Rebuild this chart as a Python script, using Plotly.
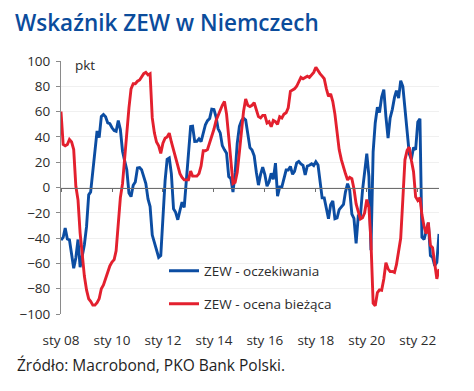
import pandas as pd
import plotly.graph_objects as go

# monthly data Jan 2008 .. Nov 2022
start_month = "2008-01-01"
expectations = [
    -41.6, -39.5, -32.0, -40.7, -41.4, -52.4, -63.9, -55.5, -41.1, -63.0, -53.5, -45.2,
    -31.0, -5.8, -3.5, 13.0, 31.1, 44.8, 39.5, 56.1, 57.7, 56.0, 51.1, 50.4,
    47.2, 45.1, 44.5, 53.0, 45.8, 28.7, 21.2, 14.0, -4.3, -7.2, 1.8, 4.3,
    15.4, 15.7, 14.1, 7.6, 3.1, -9.0, -15.1, -37.6, -43.3, -48.3, -55.2, -53.8,
    -21.6, 5.4, 22.3, 23.4, 10.8, -16.9, -19.6, -25.5, -18.2, -11.5, -15.7, 6.9,
    31.5, 48.2, 48.5, 36.3, 36.4, 38.5, 36.3, 42.0, 49.6, 52.8, 54.6, 62.0,
    61.7, 55.7, 46.6, 43.2, 33.1, 29.8, 27.1, 8.6, 6.9, -3.6, 11.5, 34.9,
    48.4, 53.0, 54.8, 53.3, 41.9, 31.5, 29.7, 25.0, 12.1, 1.9, 10.4, 16.1,
    10.2, 1.0, 4.3, 11.2, 6.4, 19.2, -6.8, 0.5, 0.5, 6.2, 13.8, 13.8,
    16.6, 10.4, 12.8, 19.5, 20.6, 18.6, 17.5, 10.0, 17.0, 17.6, 18.7, 17.4,
    20.4, 17.8, 5.1, -8.2, -8.2, -16.1, -24.7, -13.7, -10.6, -24.7, -24.1, -17.5,
    -15.0, -13.4, -3.6, 3.1, -2.1, -21.1, -24.5, -44.1, -22.5, -22.8, -2.1, 10.7,
    26.7, 8.7, -49.5, 28.2, 51.0, 63.4, 59.3, 71.5, 77.4, 56.1, 39.0, 55.0,
    61.8, 71.2, 76.6, 70.7, 84.4, 79.8, 63.3, 40.4, 26.5, 22.3, 31.7, 29.9,
    51.7, 54.3, -39.3, -41.0, -34.3, -28.0, -53.8, -55.3, -61.9, -59.2, -36.7,
]
current = [
    60, 34, 33, 34, 38, 36, 30, 1, -10, -36, -53, -70,
    -81, -88, -90, -93, -93, -91, -88, -80, -77, -72, -67, -62,
    -59, -57, -50, -31, -8, 3, 25, 45, 63, 78, 82, 82,
    84, 85, 87, 90, 91, 89, 90, 55, 43, 36, 33, 27,
    35, 39, 40, 43, 36, 30, 23, 18, 11, 8, 6, 6,
    6, 13, 9, 9, 9, 11, 17, 29, 29, 30, 35, 41,
    46, 53, 57, 62, 65, 68, 58, 40, 22, 3, 4, 12,
    28, 48, 60, 70, 65, 64, 65, 67, 62, 56, 55, 57,
    57, 51, 52, 48, 53, 52, 50, 56, 55, 58, 59, 63,
    76, 77, 78, 80, 84, 87, 86, 87, 88, 87, 89, 91,
    95, 92, 90, 88, 86, 78, 72, 74, 68, 58, 45, 30,
    22, 15, 11, 6, 8, 7, -1, -13, -20, -25, -24, -20,
    -9.5, -15.7, -43.1, -91.5, -93.5, -83.1, -80.9, -81.3, -72.3, -59.5, -64.3, -66.5,
    -66.4, -67.2, -61.0, -48.8, -40.1, -9.1, 21.9, 29.3, 31.9, 21.6, 12.5, -7.4,
    -10.2, -8.1, -21.4, -30.8, -36.5, -27.6, -45.8, -47.6, -60.5, -72.2, -64.5,
]
dates = pd.date_range(start_month, periods=len(expectations), freq="MS")

tick_vals = ["2008-01-01", "2010-01-01", "2012-01-01", "2014-01-01",
             "2016-01-01", "2018-01-01", "2020-01-01", "2022-01-01"]
tick_text = ["sty 08", "sty 10", "sty 12", "sty 14", "sty 16", "sty 18", "sty 20", "sty 22"]
y_ticks = [-100, -80, -60, -40, -20, 0, 20, 40, 60, 80, 100]

name_exp = "ZEW - oczekiwania"
name_cur = "ZEW - ocena bieżąca"

BLUE = "#0c4da2"
RED = "#e3202e"
FONT = "Open Sans"
TXT = "#2b2b2b"

fig = go.Figure()
fig.add_trace(go.Scatter(x=dates, y=current, name=name_cur, mode="lines",
                         line=dict(color=RED, width=2.9), xaxis="x2", legend="legend2",
                         showlegend=True))
fig.add_trace(go.Scatter(x=dates, y=expectations, name=name_exp, mode="lines",
                         line=dict(color=BLUE, width=2.9), legend="legend",
                         showlegend=True))

xr = [dates[0], dates[-1]]
LX = (164 - 61) / 378
fig.update_layout(
    width=474, height=391,
    margin=dict(l=61, r=35, t=61, b=77),
    showlegend=True,
    paper_bgcolor="white", plot_bgcolor="white",
    font=dict(family=FONT, size=13, color=TXT),
    title=dict(text="Wskaźnik ZEW w Niemczech", xref="container", yref="container",
               x=15 / 474, xanchor="left", y=1 - 23 / 391, yanchor="middle",
               font=dict(family=FONT, size=22.5, color="#0b4c9c", weight=600)),
    xaxis=dict(range=xr, tickmode="array", tickvals=tick_vals, ticktext=tick_text,
               showline=False, ticks="", showgrid=False, zeroline=False,
               ticklabelstandoff=16, tickfont=dict(size=13.5, color=TXT)),
    xaxis2=dict(range=xr, matches="x", overlaying="x", anchor="free", position=0.5,
                tickmode="array", tickvals=tick_vals, showticklabels=False,
                showline=True, linecolor="#6e6e6e", linewidth=1,
                ticks="outside", ticklen=3, tickcolor="#6e6e6e", showgrid=False, zeroline=False),
    yaxis=dict(range=[-100, 100], tickmode="array", tickvals=y_ticks,
               showline=True, linecolor="#8a8a8a", linewidth=1,
               ticks="outside", ticklen=4, tickcolor="#8a8a8a", ticklabelstandoff=3,
               showgrid=True, gridcolor="#f0f0f0", gridwidth=1, zeroline=False,
               tickfont=dict(size=13.5, color=TXT)),
    legend=dict(x=LX, xanchor="left", y=1 - (271 - 61) / 253, yanchor="middle",
                bgcolor="rgba(0,0,0,0)", font=dict(size=13.5, color=TXT), visible=True),
    legend2=dict(x=LX, xanchor="left", y=1 - (304 - 61) / 253, yanchor="middle",
                 bgcolor="rgba(0,0,0,0)", font=dict(size=13.5, color=TXT), visible=True),
    annotations=[
        dict(text="pkt", xref="paper", yref="paper", x=(73 - 61) / 378, y=1 - (65 - 61) / 253,
             xanchor="left", yanchor="middle", showarrow=False, font=dict(size=13.5, color=TXT)),
        dict(text="Źródło: Macrobond, PKO Bank Polski.", xref="paper", yref="paper",
             x=(15 - 61) / 378, y=1 - (365 - 61) / 253, xanchor="left", yanchor="middle",
             showarrow=False, font=dict(size=15.5, color="#1e1e1e")),
    ],
)
fig.write_html("out.html", config={"displayModeBar": False},
               post_script="document.body.style.margin='0';")
